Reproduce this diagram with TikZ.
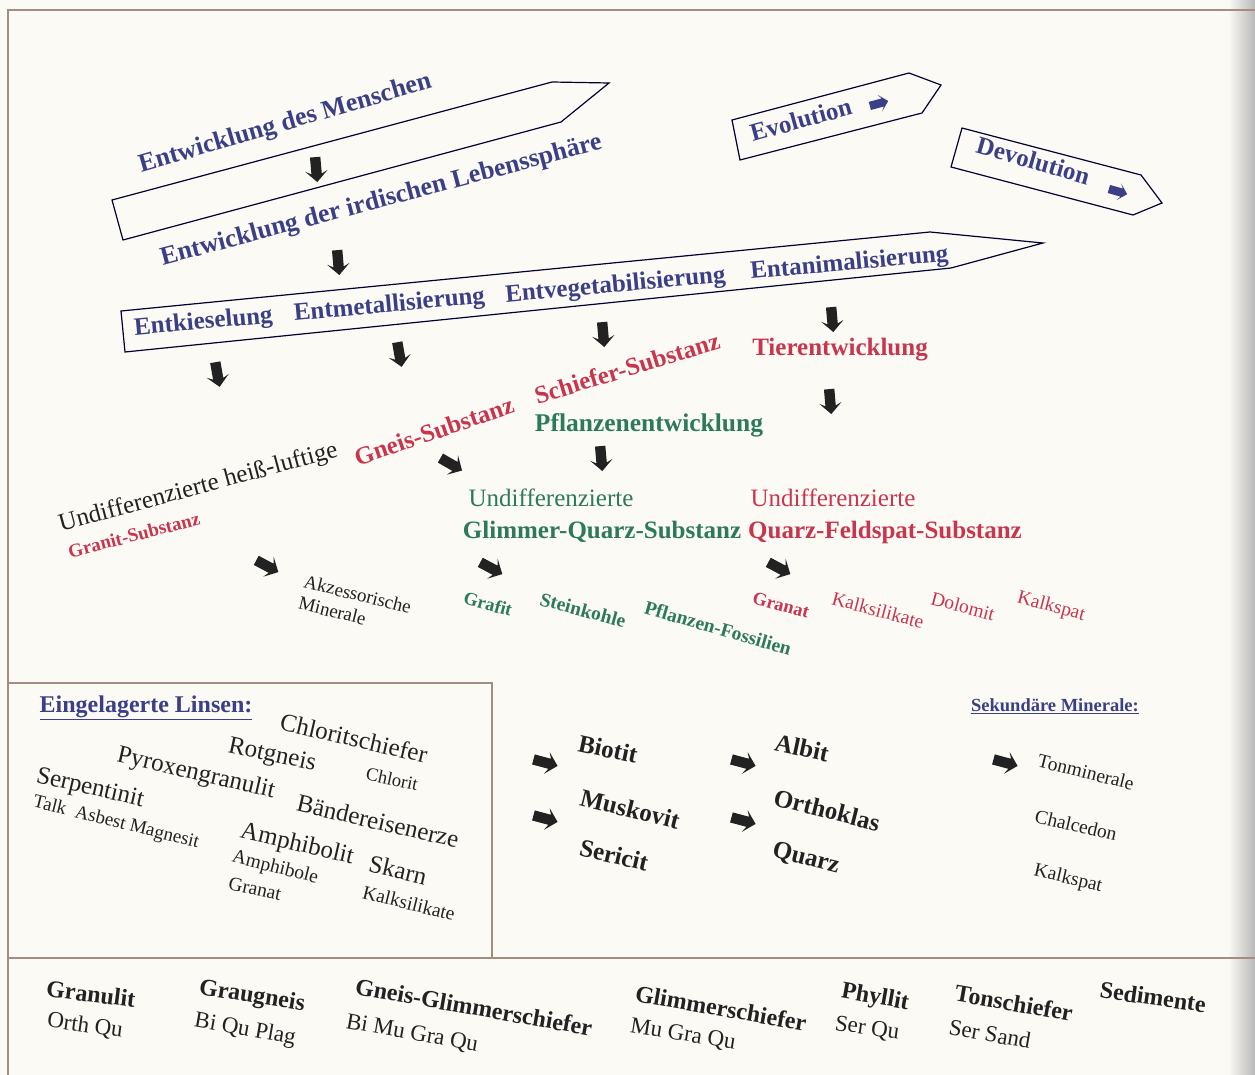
\documentclass[tikz,border=0pt]{standalone}
\usepackage{fontspec}
\setmainfont{Liberation Serif}
\usepackage{xcolor}
\usetikzlibrary{shapes.arrows}
\definecolor{label-blue}{HTML}{3B3F86}
\definecolor{label-red}{HTML}{C8364E}
\definecolor{label-green}{HTML}{2C7A58}
\definecolor{label-black}{HTML}{222222}
\definecolor{frame-brown}{HTML}{A38C80}
\definecolor{paper}{HTML}{FCFAF5}
\tikzset{
    blue-label/.style = {text=label-blue, font=\fontsize{#1}{#1}\selectfont\bfseries, inner sep=0pt},
    blue-label/.default = 25,
    bold-label/.style = {text=label-black, font=\fontsize{#1}{#1}\selectfont\bfseries, inner sep=0pt},
    bold-label/.default = 25,
    plain-label/.style = {text=label-black, font=\fontsize{#1}{#1}\selectfont, inner sep=0pt},
    plain-label/.default = 25,
    flow-arrow/.style = {single arrow, fill=label-black, inner xsep=0pt, inner ysep=5pt, minimum width=22pt,
        minimum height=25pt, single arrow head extend=6pt, single arrow head indent=3pt},
    small-arrow/.style = {flow-arrow, fill=label-blue, inner ysep=4pt, minimum width=17pt, minimum height=19pt,
        single arrow head extend=4.5pt},
    ribbon/.style = {draw=black!80!blue, line width=1.2pt},
    frame-line/.style = {draw=frame-brown, line width=1.3pt},
}

\begin{document}
\begin{tikzpicture}[x=1pt, y=-1pt]
\useasboundingbox (0,0) rectangle (1255,1075);
% paper and frame
\fill[paper] (0,0) rectangle (1255,1075);
\shade[left color=paper, right color=black!28] (1228,0) rectangle (1255,1075);
\draw[frame-line] (1255,10) -- (8,10) -- (8,1075);
\draw[frame-line] (8,683) -- (492,683) -- (492,958);
\draw[frame-line] (8,958) -- (1255,958);

% ribbons
\draw[ribbon] (112,200) -- (552,82) -- (609,83) -- (561,122) -- (123,240) -- cycle;
\draw[ribbon] (121,311) -- (930,232) -- (1043,243) -- (951,268) -- (125,352) -- cycle;
\draw[ribbon] (732,120) -- (909,73) -- (941,85) -- (922,113) -- (740,160) -- cycle;
\draw[ribbon] (962,128) -- (1141,175) -- (1162,203) -- (1133,215) -- (951,167) -- cycle;

% evolution / devolution
\node[blue-label, anchor=base, rotate=15.5] (evolution) at (803,128) {Evolution};
\node[small-arrow, rotate=15] (evolution-arrow) at (877,104) {};
\node[blue-label, anchor=base, rotate=-16] (devolution) at (1031,169) {Devolution};
\node[small-arrow, rotate=-16] (devolution-arrow) at (1116,191) {};

% upper chain
\node[blue-label=26, anchor=base, rotate=16.2] (menschen) at (287,130) {Entwicklung des Menschen};
\node[flow-arrow, rotate=-85] (down-1) at (316,167) {};
\node[blue-label=26, anchor=base, rotate=14.8] (lebensraum) at (383,207) {Entwicklung der irdischen Lebenssphäre};
\node[flow-arrow, rotate=-85] (down-2) at (338,260) {};

\node[blue-label, anchor=base, rotate=5.2] (entkieselung) at (204,329) {Entkieselung};
\node[blue-label, anchor=base, rotate=5.2] (entmetall) at (390,312) {Entmetallisierung};
\node[blue-label, anchor=base, rotate=5.2] (entvegetab) at (616,292) {Entvegetabilisierung};
\node[blue-label, anchor=base, rotate=5.2] (entanimal) at (850,270) {Entanimalisierung};

\node[flow-arrow, rotate=-80] (down-3) at (217,372) {};
\node[flow-arrow, rotate=-80] (down-4) at (399,352) {};
\node[flow-arrow, rotate=-85] (down-5) at (603,332) {};
\node[flow-arrow, rotate=-85] (down-6) at (832,317) {};

% substances
\node[bold-label, text=label-red] (tier) at (840,350) {Tierentwicklung};
\node[flow-arrow, rotate=-85] (down-7) at (830,399) {};
\node[bold-label, text=label-red, rotate=17] (schiefer) at (627,368) {Schiefer-Substanz};
\node[bold-label=25.5, text=label-green] (pflanzen) at (649,425) {Pflanzenentwicklung};
\node[flow-arrow, rotate=-85] (down-8) at (601,456) {};
\node[plain-label, anchor=base, rotate=15] (heissluft) at (200,494) {Undifferenzierte heiß-luftige};
\node[bold-label, text=label-red, rotate=19] (gneis) at (434,431) {Gneis-Substanz};
\node[bold-label=19, text=label-red, rotate=14.5] (granit) at (134,535) {Granit-Substanz};
\node[flow-arrow, rotate=-30] (side-1) at (449,463) {};

\node[plain-label, text=label-green] (undiff-green) at (551,498) {Undifferenzierte};
\node[bold-label, text=label-green] (glimmer-quarz) at (602,532) {Glimmer-Quarz-Substanz};
\node[plain-label, text=label-red] (undiff-red) at (833,498) {Undifferenzierte};
\node[bold-label, text=label-red] (quarz-feldspat) at (885,532) {Quarz-Feldspat-Substanz};

\node[flow-arrow, rotate=-28] (side-2) at (265,565) {};
\node[flow-arrow, rotate=-28] (side-3) at (489,567) {};
\node[flow-arrow, rotate=-28] (side-4) at (777,567) {};

% minerals under the substances
\node[plain-label=19, align=left, rotate=-14] (akzessorisch) at (355,605) {Akzessorische\\[3pt]Minerale};
\node[bold-label=18.5, text=label-green, rotate=-15] (grafit) at (488,604) {Grafit};
\node[bold-label=19.5, text=label-green, rotate=-15] (steinkohle) at (583,610) {Steinkohle};
\node[bold-label=19.5, text=label-green, rotate=-16] (fossilien) at (718,628) {Pflanzen-Fossilien};
\node[bold-label=18.5, text=label-red, rotate=-15] (granat) at (781,605) {Granat};
\node[plain-label=19.5, text=label-red, rotate=-15] (kalksilikate) at (878,610) {Kalksilikate};
\node[plain-label=19.5, text=label-red, rotate=-15] (dolomit) at (963,606) {Dolomit};
\node[plain-label=19.5, text=label-red, rotate=-15] (kalkspat) at (1051,607) {Kalkspat};

% lenses
\node[blue-label=24] (linsen) at (146,708) {\underline{Eingelagerte Linsen:}};
\node[plain-label, rotate=-13] (chloritschiefer) at (354,738) {Chloritschiefer};
\node[plain-label, rotate=-12] (rotgneis) at (272,756) {Rotgneis};
\node[plain-label=18.5, rotate=-12] (chlorit) at (392,779) {Chlorit};
\node[plain-label, rotate=-13] (pyroxengranulit) at (196,774) {Pyroxengranulit};
\node[plain-label, rotate=-13] (serpentinit) at (90,789) {Serpentinit};
\node[plain-label, rotate=-13] (baendereisen) at (378,821) {Bändereisenerze};
\node[plain-label=19, rotate=-14] (talk) at (116,823) {Talk\ \ Asbest Magnesit};
\node[plain-label, rotate=-13] (amphibolit) at (297,845) {Amphibolit};
\node[plain-label, rotate=-13] (skarn) at (398,870) {Skarn};
\node[plain-label=19.5, rotate=-14] (amphibole) at (275,868) {Amphibole};
\node[plain-label=19.5, rotate=-12] (granat-linse) at (255,889) {Granat};
\node[plain-label=19.5, rotate=-14] (kalksilikate-linse) at (409,903) {Kalksilikate};

% mica and feldspar
\node[flow-arrow, rotate=-15] (mica-1) at (543,762) {};
\node[flow-arrow, rotate=-15] (mica-2) at (543,818) {};
\node[bold-label, rotate=-12] (biotit) at (608,749) {Biotit};
\node[bold-label, rotate=-14] (muskovit) at (630,809) {Muskovit};
\node[bold-label, rotate=-13] (sericit) at (614,855) {Sericit};
\node[flow-arrow, rotate=-15] (feld-1) at (741,762) {};
\node[flow-arrow, rotate=-15] (feld-2) at (741,820) {};
\node[bold-label, rotate=-12] (albit) at (802,748) {Albit};
\node[bold-label, rotate=-14] (orthoklas) at (827,810) {Orthoklas};
\node[bold-label, rotate=-14] (quarz) at (806,859) {Quarz};

% secondary minerals
\node[blue-label=18.5] (sekundaer) at (1055,706) {\underline{Sekundäre Minerale:}};
\node[flow-arrow, rotate=-15] (sek-arrow) at (1003,762) {};
\node[plain-label=19.5, rotate=-14] (tonminerale) at (1086,772) {Tonminerale};
\node[plain-label=19.5, rotate=-13] (chalcedon) at (1076,825) {Chalcedon};
\node[plain-label=19.5, rotate=-13] (kalkspat-sek) at (1068,879) {Kalkspat};

% rock sequence
\node[bold-label=24, rotate=-7] (granulit) at (91,994) {Granulit};
\node[plain-label=23, rotate=-8] (granulit-min) at (85,1026) {Orth Qu};
\node[bold-label=24, rotate=-9] (graugneis) at (252,997) {Graugneis};
\node[plain-label=23, rotate=-10] (graugneis-min) at (245,1030) {Bi Qu Plag};
\node[bold-label=24, rotate=-10] (gneis-glimmer) at (474,1007) {Gneis-Glimmerschiefer};
\node[plain-label=23, rotate=-10] (gneis-glimmer-min) at (412,1034) {Bi Mu Gra Qu};
\node[bold-label=24, rotate=-10] (glimmerschiefer) at (721,1008) {Glimmerschiefer};
\node[plain-label=23, rotate=-9] (glimmerschiefer-min) at (683,1035) {Mu Gra Qu};
\node[bold-label=24, rotate=-10] (phyllit) at (875,998) {Phyllit};
\node[plain-label=23, rotate=-8] (phyllit-min) at (867,1029) {Ser Qu};
\node[bold-label=24, rotate=-10] (tonschiefer) at (1014,1003) {Tonschiefer};
\node[plain-label=23, rotate=-10] (tonschiefer-min) at (990,1034) {Ser Sand};
\node[bold-label=24, rotate=-8] (sedimente) at (1153,997) {Sedimente};
\end{tikzpicture}
\end{document}
